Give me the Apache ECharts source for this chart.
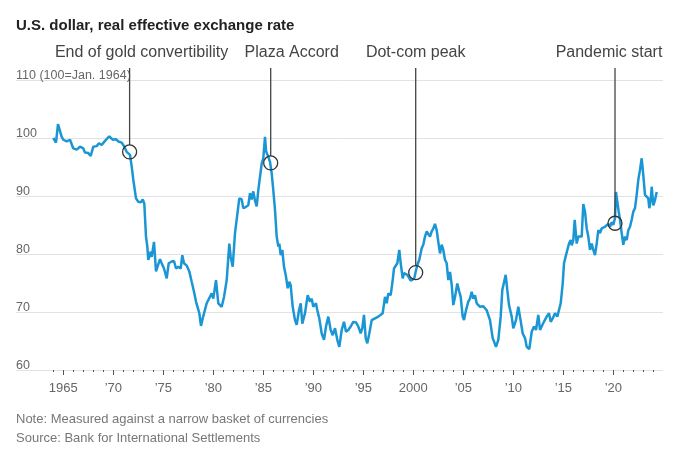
<!DOCTYPE html>
<html>
<head>
<meta charset="utf-8">
<script src="https://cdn.jsdelivr.net/npm/echarts@6/dist/echarts.min.js"></script>
<style>
html,body{margin:0;padding:0;background:#fff;}
#chart{width:700px;height:456px;}
</style>
</head>
<body>
<div id="chart"></div>
<script>
// ---- Data ----
const titleText = 'U.S. dollar, real effective exchange rate';
const noteLines = ['Note: Measured against a narrow basket of currencies', 'Source: Bank for International Settlements'];

const years = [
1964.00,1964.27,1964.47,1964.60,1964.84,1965.00,1965.34,1965.67,1966.00,1966.34,1966.67,1967.00,1967.17,1967.50,1967.74,
1968.00,1968.34,1968.57,1968.84,1969.17,1969.60,1969.94,1970.27,1970.50,1970.84,1971.10,1971.34,1971.50,1971.67,1971.84,
1972.00,1972.27,1972.50,1972.74,1972.94,1973.10,1973.27,1973.40,1973.50,1973.74,1973.84,1974.07,1974.27,1974.40,1974.67,
1974.84,1975.07,1975.34,1975.54,1975.84,1976.07,1976.27,1976.50,1976.74,1976.90,1977.07,1977.34,1977.60,1977.84,1978.07,
1978.27,1978.40,1978.60,1978.77,1978.94,1979.34,1979.84,1980.00,1980.27,1980.50,1980.84,1981.07,1981.34,1981.60,1981.74,
1981.94,1982.17,1982.34,1982.60,1982.84,1983.00,1983.24,1983.50,1983.67,1983.84,1984.00,1984.17,1984.34,1984.50,1984.67,
1984.84,1985.00,1985.17,1985.27,1985.34,1985.50,1985.67,1985.84,1986.00,1986.17,1986.34,1986.50,1986.60,1986.74,1986.90,
1987.07,1987.27,1987.44,1987.60,1987.74,1987.94,1988.17,1988.34,1988.57,1988.74,1988.90,1989.17,1989.44,1989.67,1989.84,
1990.00,1990.27,1990.40,1990.60,1990.84,1991.07,1991.27,1991.50,1991.74,1991.94,1992.17,1992.40,1992.60,1992.84,1993.07,
1993.27,1993.50,1993.74,1994.00,1994.27,1994.50,1994.74,1994.90,1995.07,1995.24,1995.40,1995.60,1995.84,1996.17,1996.50,
1996.94,1997.17,1997.34,1997.50,1997.74,1997.94,1998.07,1998.27,1998.40,1998.60,1998.74,1998.94,1999.07,1999.27,1999.40,
1999.60,1999.74,1999.94,2000.10,2000.27,2000.40,2000.60,2000.84,2001.00,2001.17,2001.34,2001.50,2001.67,2001.84,2002.00,
2002.17,2002.34,2002.50,2002.67,2002.84,2003.00,2003.17,2003.34,2003.50,2003.67,2003.84,2004.00,2004.17,2004.40,2004.60,
2004.74,2004.94,2005.07,2005.27,2005.50,2005.67,2005.84,2006.00,2006.17,2006.34,2006.50,2006.67,2007.00,2007.34,2007.67,
2007.94,2008.27,2008.50,2008.74,2008.90,2009.07,2009.24,2009.40,2009.57,2009.84,2010.00,2010.27,2010.50,2010.67,2010.94,
2011.17,2011.34,2011.60,2011.84,2012.07,2012.27,2012.50,2012.67,2012.84,2013.00,2013.17,2013.34,2013.57,2013.74,2013.94,
2014.17,2014.40,2014.60,2014.74,2014.94,2015.07,2015.27,2015.40,2015.57,2015.74,2015.84,2016.00,2016.14,2016.34,2016.50,
2016.67,2016.84,2017.00,2017.17,2017.34,2017.50,2017.67,2017.84,2018.00,2018.17,2018.34,2018.50,2018.67,2018.84,2019.00,
2019.17,2019.34,2019.50,2019.67,2019.84,2020.00,2020.17,2020.27,2020.40,2020.54,2020.67,2020.84,2021.00,2021.17,2021.34,
2021.50,2021.67,2021.84,2022.00,2022.17,2022.34,2022.50,2022.67,2022.84,2023.00,2023.17,2023.34,2023.50,2023.60,2023.74,
2023.84,2024.00,2024.17,2024.34
];
const values = [
100.0,99.2,102.4,102.2,100.2,99.7,99.4,99.7,98.2,98.0,98.5,98.2,97.5,97.4,96.9,
98.5,98.6,99.1,98.8,99.5,100.3,99.7,99.8,99.4,99.2,98.5,97.6,97.8,97.1,95.1,
92.8,89.6,89.0,88.9,89.4,88.7,83.0,81.3,79.0,80.4,79.5,82.1,77.0,76.8,79.1,
78.4,77.5,75.8,78.4,78.7,78.8,77.5,77.8,77.5,79.8,78.4,78.0,77.0,75.2,73.5,
71.8,72.0,69.8,67.6,68.9,71.5,73.2,72.3,75.5,71.5,70.9,72.6,75.5,81.8,79.5,
77.8,83.6,83.3,89.6,89.4,87.9,88.1,88.4,90.5,89.4,90.8,89.2,88.2,91.0,93.3,
95.6,96.5,100.2,97.9,97.4,96.8,95.9,93.9,91.0,87.6,83.0,81.3,81.8,79.8,80.7,
77.8,76.1,74.1,75.2,74.6,70.9,68.6,67.8,70.3,71.5,68.0,69.8,72.9,71.8,72.3,
70.9,71.5,70.3,68.9,66.3,65.2,67.5,69.2,66.9,66.0,67.2,65.2,64.0,66.9,68.3,
66.6,66.9,67.5,68.3,68.2,67.5,66.3,67.2,69.5,65.5,64.6,66.3,68.6,68.9,69.2,
69.8,72.6,71.5,73.2,72.9,75.5,77.5,77.5,78.4,80.7,78.4,75.8,76.7,77.0,76.4,
76.1,75.4,75.3,75.8,77.2,78.1,79.0,81.0,81.6,83.0,83.9,84.1,83.0,83.9,84.4,
85.2,84.1,82.1,80.1,81.6,80.7,79.0,78.4,75.5,76.9,74.7,71.2,72.6,74.9,73.5,
72.6,69.2,68.6,70.3,71.8,72.3,73.5,72.3,72.9,71.5,71.8,70.9,71.0,70.3,68.6,
65.5,64.0,65.2,69.2,73.8,74.1,76.4,73.8,71.2,69.2,67.2,68.6,70.9,69.2,66.3,
65.5,64.0,63.6,66.6,67.5,66.9,69.5,66.9,67.2,68.1,68.1,69.2,69.8,68.3,68.9,
69.8,69.2,69.5,71.5,74.9,78.4,79.8,79.5,81.8,82.4,81.5,82.4,85.9,81.8,83.0,
83.3,83.0,88.6,87.3,84.4,83.0,80.7,81.8,80.7,79.8,81.8,84.1,83.6,84.4,84.1,
84.7,84.4,85.2,84.7,85.5,85.0,86.2,90.7,89.0,87.3,85.9,83.6,81.6,83.0,82.4,
84.1,84.7,85.9,87.3,87.9,90.2,92.8,94.5,96.5,93.6,90.2,90.2,89.6,87.9,89.3,
91.6,88.4,89.3,90.7
];

const minorTickYears = [1964,1965,1966,1967,1968,1969,1970,1971,1972,1973,1974,1975,1976,1977,1978,1979,1980,1981,1982,1983,1984,1985,1986,1987,1988,1989,1990,1991,1992,1993,1994,1995,1996,1997,1998,1999,2000,2001,2002,2003,2004,2005,2006,2007,2008,2009,2010,2011,2012,2013,2014,2015,2016,2017,2018,2019,2020,2021,2022,2023,2024];
const majorTickYears = [1965,1970,1975,1980,1985,1990,1995,2000,2005,2010,2015,2020];
const xTickLabels = ['1965','\u201970','\u201975','\u201980','\u201985','\u201990','\u201995','2000','\u201905','\u201910','\u201915','\u201920'];
const yTicks = [60,70,80,90,100,110];
const yTickLabels = ['60','70','80','90','100','110 (100=Jan. 1964)'];

const eventLabels = ['End of gold convertibility','Plaza Accord','Dot-com peak','Pandemic start'];
const eventYears = [1971.63, 1985.74, 2000.24, 2020.17];
const eventValues = [97.6, 95.7, 76.8, 85.3];

// ---- Layout / style constants ----
const FONT = '"Liberation Sans", Arial, sans-serif';
const labelDx = [12, 21, 0, -6];
const LABEL_Y = 53;
const LINE_TOP = 68;
const CIRCLE_R = 7;
const X_MIN = 1960.27, X_MAX = 2024.97;

const chart = echarts.init(document.getElementById('chart'), null, {renderer: 'canvas'});
const lineData = years.map((y, i) => [y, values[i]]);
const eventData = eventYears.map((y, i) => [y, eventValues[i], i]);

const option = {
  animation: false,
  backgroundColor: '#fff',
  title: {
    text: titleText,
    left: 16, top: 18, padding: 0,
    textStyle: {fontFamily: FONT, fontSize: 15, fontWeight: 'bold', color: '#222'}
  },
  grid: {left: 16, right: 37, top: 80, bottom: 86, containLabel: false},
  xAxis: [
    {
      type: 'value', min: X_MIN, max: X_MAX, position: 'bottom',
      axisLine: {show: false}, splitLine: {show: false},
      axisTick: {show: true, length: 2, customValues: minorTickYears, lineStyle: {color: '#555', width: 1}},
      axisLabel: {show: false}
    },
    {
      type: 'value', min: X_MIN, max: X_MAX, position: 'bottom',
      axisLine: {show: false}, splitLine: {show: false},
      axisTick: {show: true, length: 5, customValues: majorTickYears, lineStyle: {color: '#555', width: 1}},
      axisLabel: {
        show: true, customValues: majorTickYears, margin: 12,
        fontFamily: FONT, fontSize: 13, color: '#666',
        formatter: v => xTickLabels[majorTickYears.indexOf(Math.round(v))] || ''
      }
    }
  ],
  yAxis: {
    type: 'value', min: 60, max: 110, interval: 10, position: 'left',
    axisLine: {show: false}, axisTick: {show: false},
    splitLine: {show: true, lineStyle: {color: '#e2e2e2', width: 1}},
    axisLabel: {
      inside: true, margin: 0, align: 'left', verticalAlign: 'bottom',
      lineHeight: 9, padding: 0, showMinLabel: true, showMaxLabel: true,
      fontFamily: FONT, fontSize: 12.5, color: '#666',
      formatter: v => yTickLabels[yTicks.indexOf(v)]
    }
  },
  graphic: noteLines.map((t, i) => ({
    type: 'text', left: 16, top: 413 + i * 19,
    style: {text: t, fontFamily: FONT, fontSize: 13, fill: '#777'}
  })),
  series: [
    {
      type: 'line', xAxisIndex: 0, data: lineData, showSymbol: false, smooth: false,
      lineStyle: {color: '#1a96d4', width: 2.5}, z: 2
    },
    {
      type: 'custom', xAxisIndex: 0, data: eventData, clip: false, z: 5,
      renderItem: (params, api) => {
        const idx = api.value(2);
        const p = api.coord([api.value(0), api.value(1)]);
        return {
          type: 'group',
          children: [
            {type: 'line', shape: {x1: p[0], y1: LINE_TOP, x2: p[0], y2: p[1] - CIRCLE_R},
             style: {stroke: '#444', lineWidth: 1.3}},
            {type: 'circle', shape: {cx: p[0], cy: p[1], r: CIRCLE_R},
             style: {stroke: '#333', fill: 'none', lineWidth: 1.3}},
            {type: 'text', x: p[0] + labelDx[idx], y: LABEL_Y,
             style: {text: eventLabels[idx], fontFamily: FONT, fontSize: 16, fill: '#444',
                     align: 'center', verticalAlign: 'middle'}}
          ]
        };
      }
    }
  ]
};
chart.setOption(option);
</script>
</body>
</html>
